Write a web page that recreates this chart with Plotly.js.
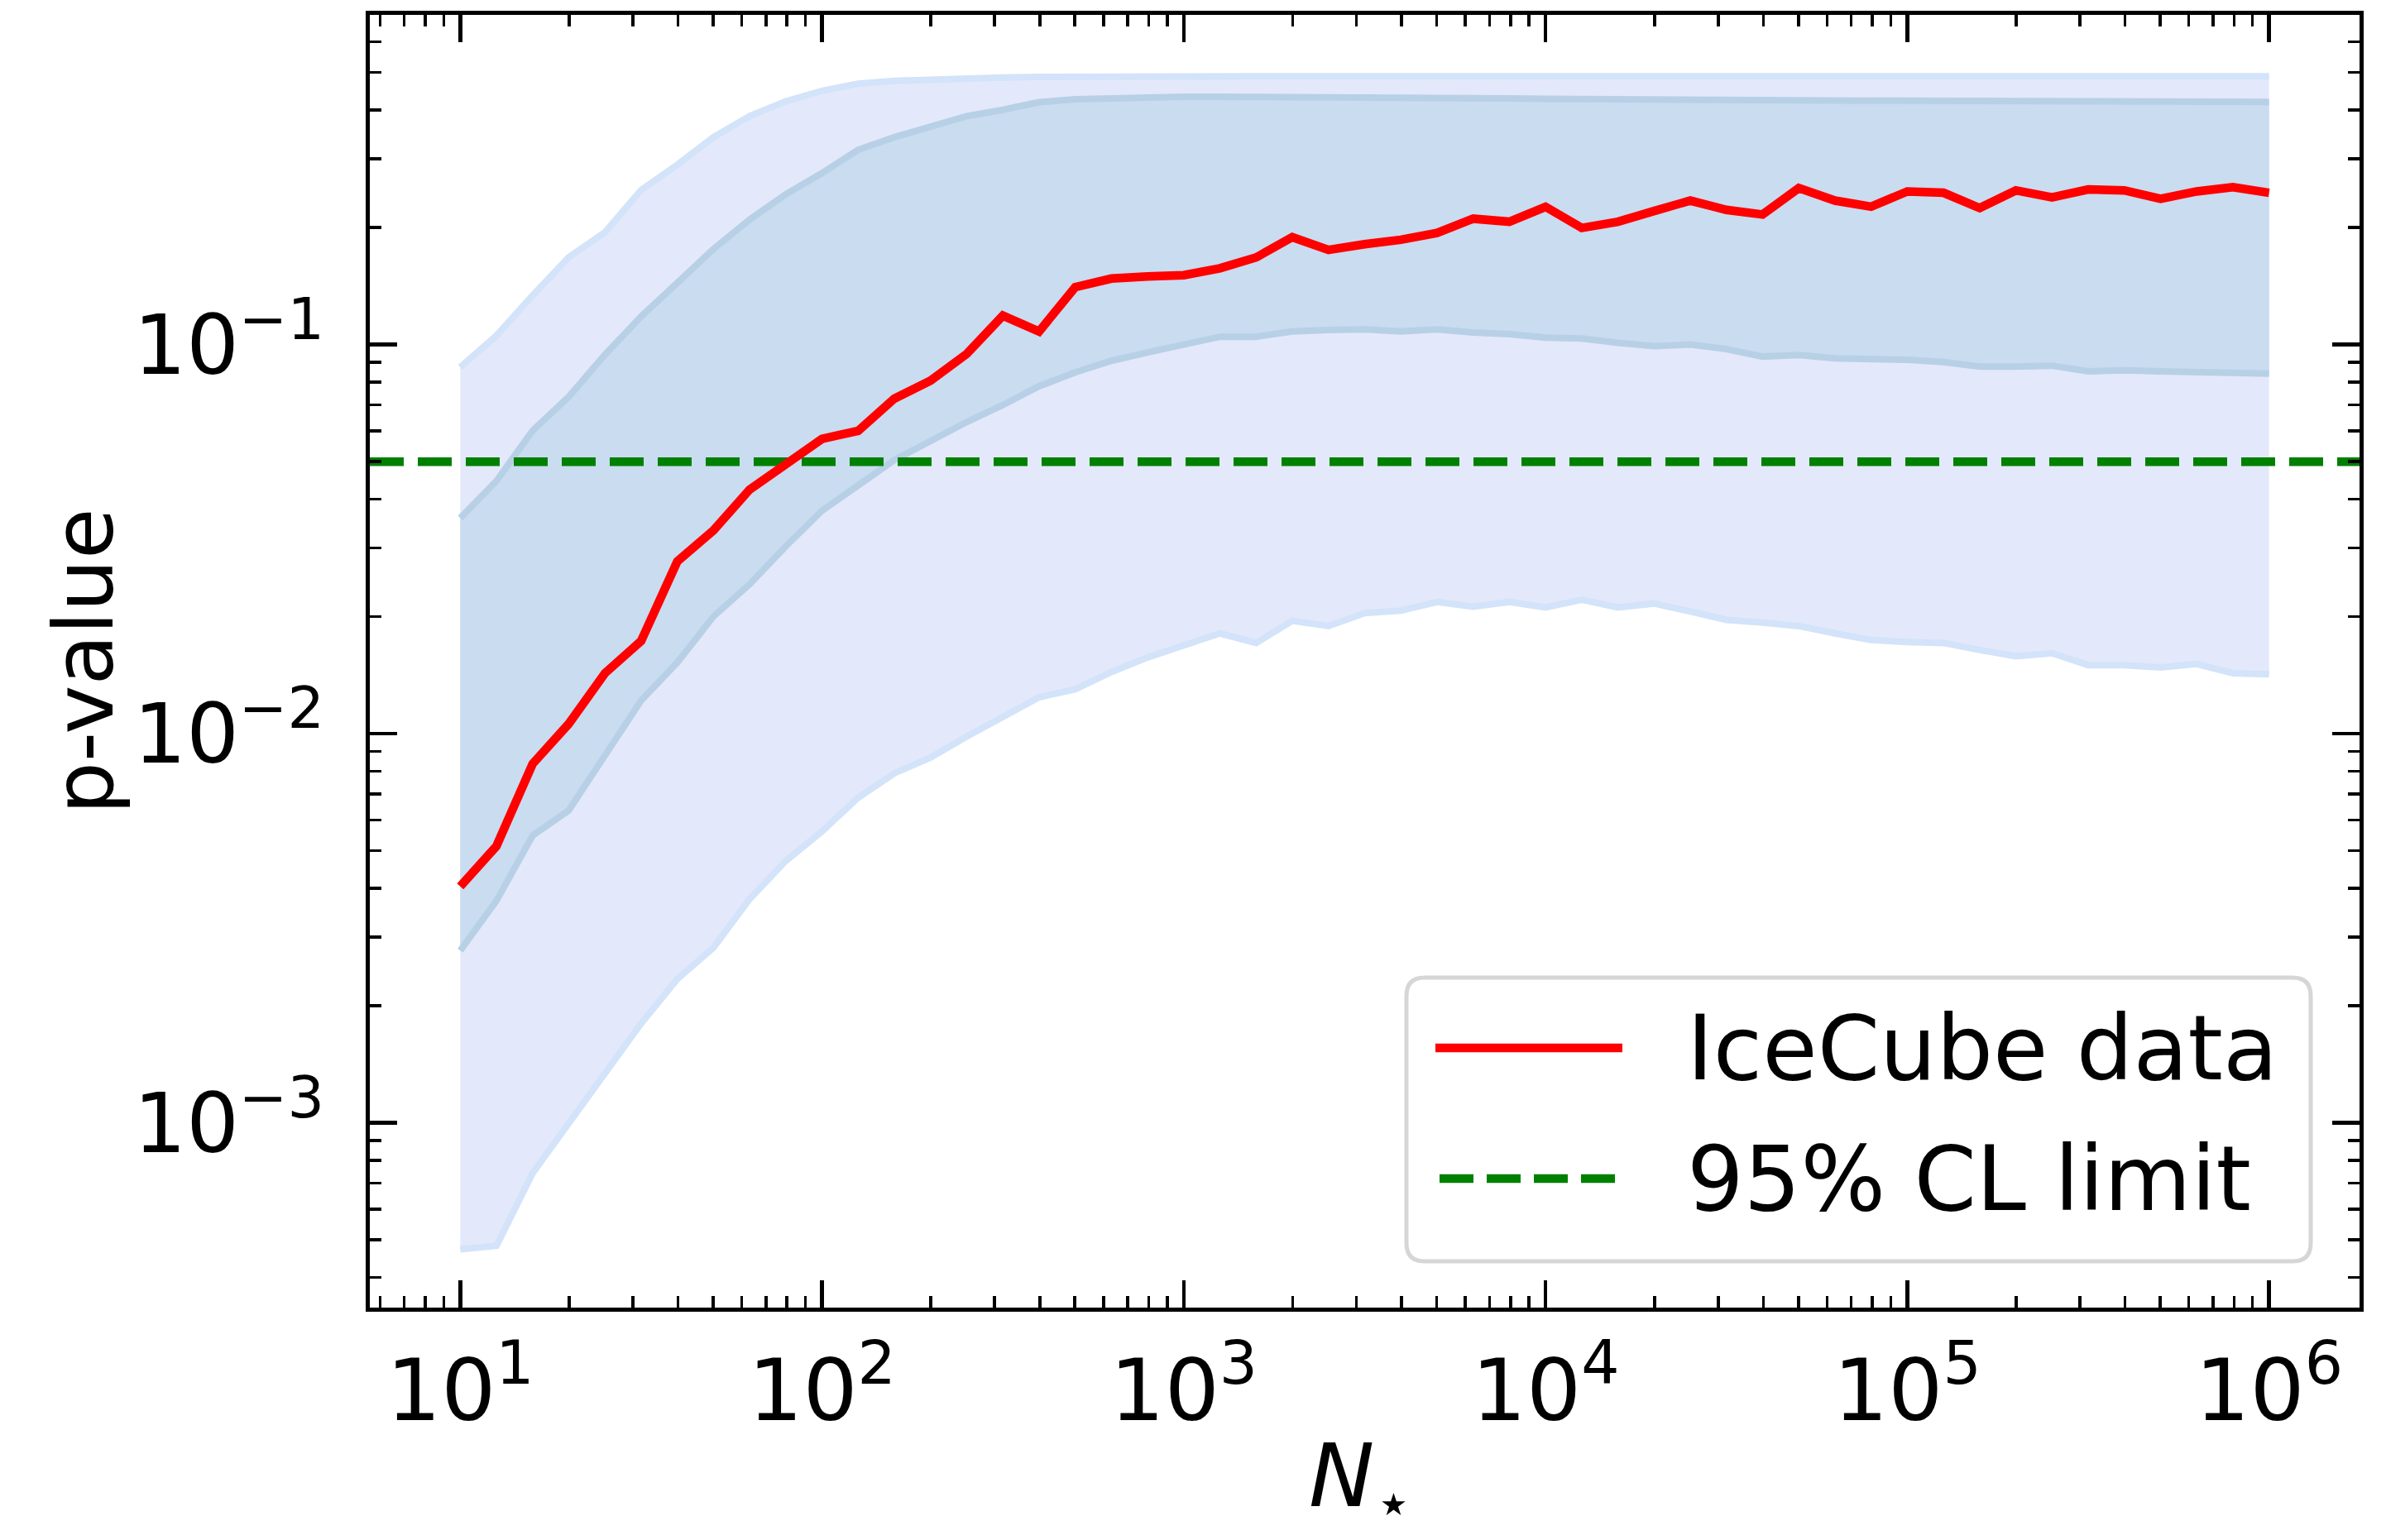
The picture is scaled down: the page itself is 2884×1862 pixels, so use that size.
<!DOCTYPE html>
<html>
<head>
<meta charset="utf-8">
<script src="https://cdn.plot.ly/plotly-3.0.1.min.js"></script>
<style>
  html, body { margin: 0; padding: 0; background: #ffffff; }
  #chart { width: 2884px; height: 1862px; }
</style>
</head>
<body>
<div id="chart"></div>
<script>
// Number of stars N_star (0.1-decade grid from 10 to 10^6)
const nStar = [
  10, 12.59, 15.85, 19.95, 25.12, 31.62, 39.81, 50.12, 63.10, 79.43,
  100, 125.9, 158.5, 199.5, 251.2, 316.2, 398.1, 501.2, 631.0, 794.3,
  1000, 1259, 1585, 1995, 2512, 3162, 3981, 5012, 6310, 7943,
  10000, 12589, 15849, 19953, 25119, 31623, 39811, 50119, 63096, 79433,
  100000, 125893, 158489, 199526, 251189, 316228, 398107, 501187, 630957, 794328,
  1000000
];

// Observed p-value from the IceCube data
const pData = [
  0.00405, 0.00514, 0.00836, 0.0106, 0.0143, 0.0173, 0.0277, 0.0333, 0.0424, 0.0495,
  0.0572, 0.0600, 0.0726, 0.0807, 0.0946, 0.1186, 0.1080, 0.1404, 0.1477, 0.1496,
  0.1507, 0.1570, 0.1674, 0.1887, 0.1750, 0.1810, 0.1858, 0.1934, 0.2105, 0.2068,
  0.2258, 0.1993, 0.2068, 0.2203, 0.2343, 0.2218, 0.2158, 0.2523, 0.2343, 0.2261,
  0.2474, 0.2454, 0.2242, 0.2489, 0.2388, 0.2502, 0.2489, 0.2368, 0.2474, 0.2537,
  0.2454
];

// Inner band (1 sigma) of the expected p-value
const innerLower = [
  0.00277, 0.00372, 0.00547, 0.00635, 0.00879, 0.01216, 0.01523, 0.0200, 0.0242, 0.0303,
  0.0374, 0.0435, 0.0505, 0.0565, 0.0632, 0.0699, 0.0781, 0.0848, 0.0908, 0.0954,
  0.1003, 0.1047, 0.1047, 0.1080, 0.1089, 0.1094, 0.1080, 0.1094, 0.1073, 0.1063,
  0.1041, 0.1036, 0.1010, 0.0990, 0.1000, 0.0973, 0.0931, 0.0939, 0.0921, 0.0921,
  0.0913, 0.0901, 0.0877, 0.0877, 0.0882, 0.0853, 0.0858, 0.0853, 0.0848, 0.0848,
  0.0842
];
const innerUpper = [
  0.0358, 0.0446, 0.0601, 0.0734, 0.0942, 0.1180, 0.1440, 0.1760, 0.2095, 0.2432,
  0.2757, 0.3165, 0.3410, 0.3630, 0.3860, 0.4010, 0.4195, 0.4268, 0.4300, 0.4320,
  0.4330, 0.4330, 0.4330, 0.4330, 0.4320, 0.4320, 0.4310, 0.4310, 0.4300, 0.4290,
  0.4280, 0.4270, 0.4260, 0.4260, 0.4250, 0.4250, 0.4240, 0.4240, 0.4240, 0.4230,
  0.4230, 0.4230, 0.4220, 0.4220, 0.4220, 0.4210, 0.4210, 0.4210, 0.4200, 0.4200,
  0.4200
];

// Outer band (2 sigma) of the expected p-value
const outerLower = [
  0.000473, 0.000483, 0.000742, 0.001002, 0.001334, 0.00180, 0.00234, 0.00282, 0.00376, 0.00471,
  0.00561, 0.00685, 0.00791, 0.00868, 0.00983, 0.0110, 0.0124, 0.0130, 0.0144, 0.0157,
  0.0168, 0.0181, 0.0171, 0.0195, 0.0189, 0.0204, 0.0207, 0.0218, 0.0212, 0.0218,
  0.0211, 0.0221, 0.0211, 0.0216, 0.0206, 0.0196, 0.0193, 0.0189, 0.0181, 0.0174,
  0.0172, 0.0171, 0.0164, 0.0158, 0.0161, 0.0150, 0.0150, 0.0148, 0.0151, 0.0143,
  0.0142
];
const outerUpper = [
  0.0874, 0.1054, 0.1336, 0.1675, 0.1943, 0.2494, 0.2897, 0.3409, 0.3862, 0.4217,
  0.4487, 0.4680, 0.4760, 0.4800, 0.4830, 0.4850, 0.4870, 0.4880, 0.4890, 0.4890,
  0.4890, 0.4890, 0.4890, 0.4890, 0.4890, 0.4890, 0.4890, 0.4890, 0.4890, 0.4890,
  0.4890, 0.4890, 0.4890, 0.4890, 0.4890, 0.4890, 0.4890, 0.4890, 0.4890, 0.4890,
  0.4890, 0.4890, 0.4890, 0.4890, 0.4890, 0.4890, 0.4890, 0.4890, 0.4890, 0.4890,
  0.4890
];

// 95% confidence-level threshold
const clLimit = 0.05;

// Axis ranges (log10 units) and tick labels
const xLogRange = [0.75, 6.25];
const yLogRange = [-3.475, -0.153];
const xTickVals = [10, 100, 1000, 10000, 100000, 1000000];
const xTickText = ['10<sup>1</sup>', '10<sup>2</sup>', '10<sup>3</sup>', '10<sup>4</sup>', '10<sup>5</sup>', '10<sup>6</sup>'];
const yTickVals = [0.001, 0.01, 0.1];
const yTickText = ['10<sup>\u22123</sup>', '10<sup>\u22122</sup>', '10<sup>\u22121</sup>'];

const xTitle = '<i>N</i><sub>\u22c6</sub>';
const yTitle = 'p-value';
const legendLabels = ['IceCube data', '95% CL limit'];

// minor ticks at 2..9 x 10^k inside a log range
function minorTicks(logRange) {
  const vals = [];
  for (let e = Math.floor(logRange[0]); e <= Math.ceil(logRange[1]); e++) {
    for (let k = 2; k <= 9; k++) {
      const v = k * Math.pow(10, e);
      const lv = Math.log10(v);
      if (lv > logRange[0] && lv < logRange[1]) vals.push(v);
    }
  }
  return vals;
}

const FONT = 'DejaVu Sans, Liberation Sans, sans-serif';
const OUTER_FILL = '#e3e9fa';
const OUTER_EDGE = '#d3e3f9';
const INNER_FILL = '#c9dcf0';
const INNER_EDGE = '#b8d0e6';
const RED = '#ff0000';
const GREEN = '#008000';

const traces = [
  { x: nStar, y: outerLower, type: 'scatter', mode: 'lines', name: '2 sigma low',
    line: { color: OUTER_EDGE, width: 8 }, showlegend: false, hoverinfo: 'skip' },
  { x: nStar, y: outerUpper, type: 'scatter', mode: 'lines', name: '2 sigma high',
    fill: 'tonexty', fillcolor: OUTER_FILL,
    line: { color: OUTER_EDGE, width: 8 }, showlegend: false, hoverinfo: 'skip' },
  { x: nStar, y: innerLower, type: 'scatter', mode: 'lines', name: '1 sigma low',
    line: { color: INNER_EDGE, width: 8 }, showlegend: false, hoverinfo: 'skip' },
  { x: nStar, y: innerUpper, type: 'scatter', mode: 'lines', name: '1 sigma high',
    fill: 'tonexty', fillcolor: INNER_FILL,
    line: { color: INNER_EDGE, width: 8 }, showlegend: false, hoverinfo: 'skip' },
  { x: [Math.pow(10, xLogRange[0]), Math.pow(10, xLogRange[1])], y: [clLimit, clLimit],
    type: 'scatter', mode: 'lines', name: legendLabels[1],
    line: { color: GREEN, width: 10.5, dash: '41px,17px' }, showlegend: false },
  { x: nStar, y: pData, type: 'scatter', mode: 'lines', name: legendLabels[0],
    line: { color: RED, width: 10.5 }, showlegend: false }
];

// plot-area geometry in pixels, used to place the legend box and x title in paper units
const PLOT = { left: 447, top: 18, width: 2405, height: 1563 };
const px = v => (v - PLOT.left) / PLOT.width;
const py = v => (PLOT.top + PLOT.height - v) / PLOT.height;

function roundedRect(x0p, y0p, x1p, y1p, r) {
  const a = px(x0p), b = px(x1p), t = py(y0p), u = py(y1p);
  const rx = r / PLOT.width, ry = r / PLOT.height;
  return `M${a + rx},${t} L${b - rx},${t} Q${b},${t} ${b},${t - ry} L${b},${u + ry} ` +
         `Q${b},${u} ${b - rx},${u} L${a + rx},${u} Q${a},${u} ${a},${u + ry} ` +
         `L${a},${t - ry} Q${a},${t} ${a + rx},${t} Z`;
}

const axisCommon = {
  type: 'log',
  showline: true, linewidth: 5, linecolor: '#000000', mirror: 'ticks',
  showgrid: false, zeroline: false,
  ticks: 'inside', ticklen: 33, tickwidth: 4.5, tickcolor: '#000000',
  tickmode: 'array'
};

const layout = {
  width: 2884, height: 1862,
  paper_bgcolor: '#ffffff', plot_bgcolor: '#ffffff',
  margin: { l: 447, r: 32, t: 18, b: 281, pad: 0 },
  showlegend: false,
  xaxis: Object.assign({}, axisCommon, {
    range: xLogRange,
    tickvals: xTickVals, ticktext: xTickText,
    tickfont: { family: FONT, size: 104, color: '#000000' },
    ticklabelstandoff: 6,
    minor: { tickmode: 'array', tickvals: minorTicks(xLogRange), ticks: 'inside',
             ticklen: 14, tickwidth: 3.5, tickcolor: '#000000', showgrid: false }
  }),
  yaxis: Object.assign({}, axisCommon, {
    range: yLogRange,
    tickvals: yTickVals, ticktext: yTickText,
    tickfont: { family: FONT, size: 100, color: '#000000' },
    ticklabelstandoff: 30,
    minor: { tickmode: 'array', tickvals: minorTicks(yLogRange), ticks: 'inside',
             ticklen: 14, tickwidth: 3.5, tickcolor: '#000000', showgrid: false },
    title: { text: yTitle, font: { family: FONT, size: 100, color: '#000000' } }
  }),
  shapes: [
    { type: 'path', xref: 'paper', yref: 'paper', layer: 'above',
      path: roundedRect(1700, 1182, 2793, 1525, 22),
      fillcolor: 'rgba(255,255,255,0.8)', line: { color: '#d6d6d6', width: 5 } },
    { type: 'line', xref: 'paper', yref: 'paper', layer: 'above',
      x0: px(1735), x1: px(1961), y0: py(1267), y1: py(1267),
      line: { color: RED, width: 10.5 } },
    { type: 'line', xref: 'paper', yref: 'paper', layer: 'above',
      x0: px(1740), x1: px(1952), y0: py(1425), y1: py(1425),
      line: { color: GREEN, width: 10.5, dash: '41px,16px' } }
  ],
  annotations: [
    { xref: 'paper', yref: 'paper', x: px(2037), y: py(1267), xanchor: 'left', yanchor: 'middle',
      text: legendLabels[0], showarrow: false, font: { family: FONT, size: 108, color: '#000000' } },
    { xref: 'paper', yref: 'paper', x: px(2037), y: py(1425), xanchor: 'left', yanchor: 'middle',
      text: legendLabels[1], showarrow: false, font: { family: FONT, size: 108, color: '#000000' } },
    // x-axis title, kept fully inside the bottom edge
    { xref: 'paper', yref: 'paper', x: px(1645), y: 0, yshift: -(1862 - 1581), xanchor: 'center', yanchor: 'bottom',
      text: xTitle, showarrow: false, font: { family: FONT, size: 106, color: '#000000' } }
  ]
};

Plotly.newPlot('chart', traces, layout, { displayModeBar: false, staticPlot: true });
</script>
</body>
</html>
